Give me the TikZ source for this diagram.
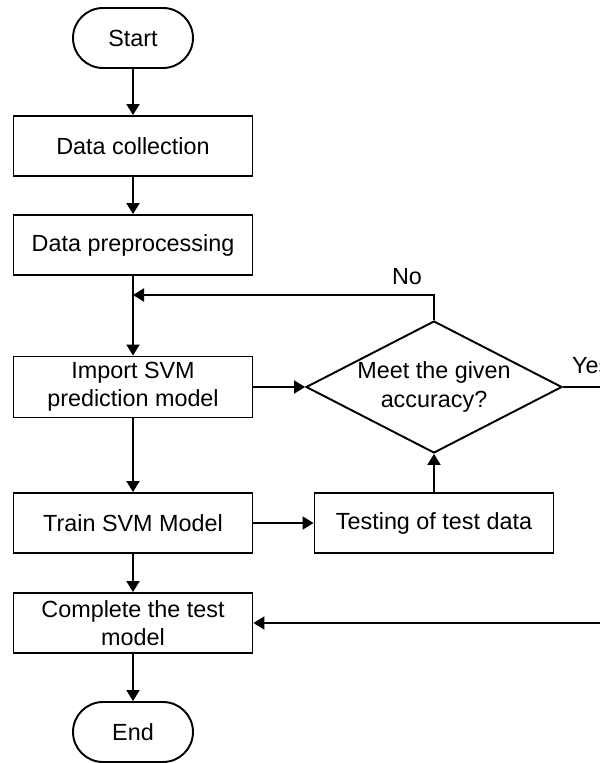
\documentclass[tikz,border=0pt]{standalone}
\usepackage{fontspec}
\setmainfont{Liberation Sans}
\usetikzlibrary{shapes.geometric,arrows.meta}
\tikzset{
  stepbox/.style={draw, line width=1.1pt, minimum width=4.78cm, minimum height=1.2cm,
    align=center, font=\fontsize{13.3}{16}\selectfont},
  termbox/.style={draw, line width=1.1pt, rounded corners=0.6cm, minimum width=2.4cm,
    minimum height=1.2cm, font=\fontsize{13.3}{16}\selectfont},
  checkbox/.style={draw, diamond, aspect=2, inner sep=0pt, line width=1.1pt,
    minimum width=5.12cm, minimum height=2.64cm, align=center,
    font=\fontsize{13.3}{16}\selectfont},
  flow/.style={line width=1.1pt, -{Triangle[length=0.22cm, width=0.26cm]}},
  lbl/.style={font=\fontsize{13.3}{16}\selectfont}
}
\begin{document}
\begin{tikzpicture}[x=0.02cm,y=-0.02cm]
  \useasboundingbox (0,0) rectangle (599,763);
  \node[termbox] (start) at (133,38) {Start};
  \node[stepbox] (collect) at (133,146) {Data collection};
  \node[stepbox] (prep) at (133,245) {Data preprocessing};
  \node[stepbox] (import) at (133,387) {Import SVM\\prediction model};
  \node[checkbox] (acc) at (434,387) {Meet the given\\accuracy?};
  \node[stepbox] (train) at (133,523) {Train SVM Model};
  \node[stepbox] (testing) at (434,523) {Testing of test data};
  \node[stepbox] (finish) at (133,623) {Complete the test\\model};
  \node[termbox] (end) at (133,732) {End};
  \node[lbl, anchor=base] (no) at (407,284) {No};
  \node[lbl, anchor=base west] (yes) at (566,373) {Yes};
  \coordinate (merge) at (133,295);
  \coordinate (outtop) at (625,387);
  \coordinate (outbot) at (625,623);
  % main line
  \draw[flow]
    (start)
    --
    (collect);
  \draw[flow]
    (collect)
    --
    (prep);
  \draw[flow]
    (prep)
    --
    (import);
  \draw[flow]
    (import)
    --
    (train);
  \draw[flow]
    (train)
    --
    (finish);
  \draw[flow]
    (finish)
    --
    (end);
  % test loop
  \draw[flow]
    (import)
    --
    (acc);
  \draw[flow]
    (train)
    --
    (testing);
  \draw[flow]
    (testing)
    --
    (acc);
  \draw[flow]
    (acc.north)
    |-
    (merge);
  \draw[flow]
    (acc.east)
    --
    (outtop)
    --
    (outbot)
    --
    (finish.east);
\end{tikzpicture}
\end{document}
